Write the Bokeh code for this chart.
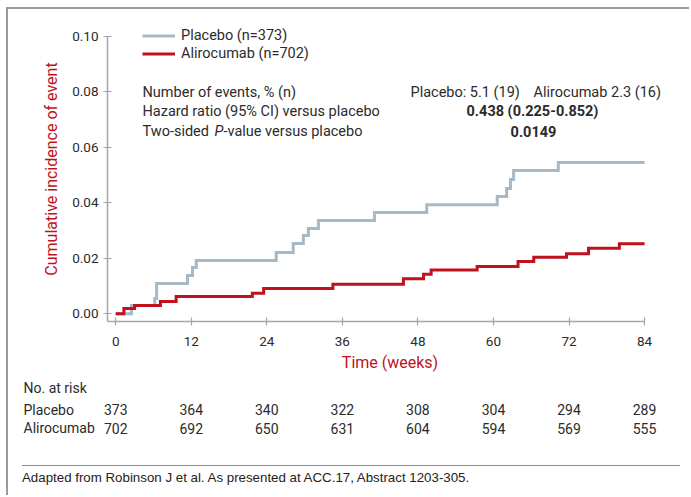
from bokeh.plotting import figure
from bokeh.models import (ColumnDataSource, Label, LabelSet, Legend, LegendItem,
                          FixedTicker, NumeralTickFormatter, Range1d, Div)
from bokeh.layouts import column
from bokeh.core.properties import value
from bokeh.embed import file_html
from bokeh.resources import INLINE

# ---------------- data ----------------
placebo_weeks = [0, 2.5, 6.2, 6.5, 11.4, 12.2, 12.8, 25.5, 28.2, 29.8, 30.6, 32.2,
                 41.1, 49.4, 60.6, 62.1, 62.7, 63.2, 70.3, 84]
placebo_inc = [0, 0.0030, 0.0055, 0.0109, 0.0138, 0.0167, 0.0192, 0.0221, 0.0253,
               0.0282, 0.0307, 0.0336, 0.0365, 0.0393, 0.0422, 0.0451, 0.0484,
               0.0516, 0.0545, 0.0545]

alirocumab_weeks = [0, 1.3, 3.0, 7.1, 9.6, 21.7, 23.5, 34.5, 45.7, 48.9, 50.1, 57.4,
                    63.9, 66.4, 71.6, 75.1, 80.0, 84]
alirocumab_inc = [0, 0.0019, 0.0030, 0.0044, 0.0062, 0.0074, 0.0091, 0.0106, 0.0126,
                  0.0142, 0.0158, 0.0170, 0.0188, 0.0204, 0.0216, 0.0236, 0.0252, 0.0252]

x_ticks = [0, 12, 24, 36, 48, 60, 72, 84]
y_ticks = [0.00, 0.02, 0.04, 0.06, 0.08, 0.10]

risk_weeks = [0, 12, 24, 36, 48, 60, 72, 84]
placebo_risk = [373, 364, 340, 322, 308, 304, 294, 289]
alirocumab_risk = [702, 692, 650, 631, 604, 594, 569, 555]

series_labels = ["Placebo (n=373)", "Alirocumab (n=702)"]
stats_rows = ["Number of events, % (n)", "Hazard ratio (95% CI) versus placebo"]
events_placebo = "Placebo: 5.1 (19)"
events_aliro = "Alirocumab 2.3 (16)"
hazard_ratio = "0.438 (0.225-0.852)"
p_value = "0.0149"
footer_text = "Adapted from Robinson J et al. As presented at ACC.17, Abstract 1203-305."

# ---------------- style / layout constants ----------------
FONT = "Roboto"
RED = "#c0121d"
BLUE = "#a5b9c7"
TXT = "#2b2b2b"
AX = "#a6a6a6"

PX_X = 6.296      # pixels per week
PX_Y = 2777.0     # pixels per unit of incidence
X_MAX, Y_MAX = 84, 0.10

# main plot geometry (pixels)
ML, MR, MT, MB = 99, 5, 7, 54
FRAME_W, FRAME_H = 565, 305
x0 = -8.2 / PX_X
x1 = x0 + FRAME_W / PX_X
y0 = -7.7 / PX_Y
y1 = y0 + FRAME_H / PX_Y

p = figure(width=ML + FRAME_W + MR, height=MT + FRAME_H + MB,
           x_range=Range1d(x0, x1), y_range=Range1d(y0, y1),
           output_backend="svg", toolbar_location=None,
           min_border_left=ML, min_border_right=MR,
           min_border_top=MT, min_border_bottom=MB)
p.frame_align = False
p.grid.visible = False
p.outline_line_color = None
p.background_fill_color = None
p.border_fill_color = None

p.xaxis.ticker = FixedTicker(ticks=x_ticks)
p.yaxis.ticker = FixedTicker(ticks=y_ticks)
p.yaxis.formatter = NumeralTickFormatter(format="0.00")
p.xaxis.bounds = (x0, X_MAX)
p.yaxis.bounds = (y0, Y_MAX)
for ax in (p.xaxis, p.yaxis):
    ax.axis_line_color = AX
    ax.axis_line_width = 1.5
    ax.major_tick_line_color = AX
    ax.major_tick_line_width = 1.2
    ax.major_tick_in = 4
    ax.major_tick_out = 4
    ax.minor_tick_line_color = None
    ax.major_label_text_font = FONT
    ax.major_label_text_font_size = "13.5px"
    ax.major_label_text_color = TXT
    ax.axis_label_text_font = FONT
    ax.axis_label_text_font_size = "16px"
    ax.axis_label_text_font_style = "normal"
    ax.axis_label_text_color = RED

p.xaxis.axis_label = "Time (weeks)"
p.xaxis.major_label_standoff = 11
p.xaxis.axis_label_standoff = 4
p.yaxis.axis_label = "Cumulative incidence of event"
p.yaxis.major_label_standoff = 5
p.yaxis.axis_label_standoff = 8

r1 = p.step(placebo_weeks, placebo_inc, mode="after", line_color=BLUE,
            line_width=3, line_join="miter")
r2 = p.step(alirocumab_weeks, alirocumab_inc, mode="after", line_color=RED,
            line_width=3, line_join="miter")

legend = Legend(items=[LegendItem(label=series_labels[0], renderers=[r1]),
                       LegendItem(label=series_labels[1], renderers=[r2])],
                location=(35, 259), padding=0, margin=0, spacing=1,
                glyph_width=33, glyph_height=17, label_height=17, label_standoff=6,
                label_text_font=FONT, label_text_font_size="14.5px",
                label_text_color=TXT, background_fill_alpha=0,
                border_line_alpha=0)
p.add_layout(legend)


def lab(fig, x, y, text, align="left", style="normal", size="14.5px"):
    fig.add_layout(Label(x=x, y=y, x_units="screen", y_units="screen", text=text,
                         text_font=FONT, text_font_size=size, text_color=TXT,
                         text_baseline="middle", text_align=align,
                         text_font_style=style))


lab(p, 35, 229.5, stats_rows[0])
lab(p, 35, 210, stats_rows[1])
lab(p, 35, 190.5, "Two-sided")
lab(p, 107, 190.5, "P", style="italic")
lab(p, 116, 190.5, "-value versus placebo")
lab(p, 303, 229.5, events_placebo)
lab(p, 426, 229.5, events_aliro)
lab(p, 425, 210, hazard_ratio, align="center", style="bold")
lab(p, 426, 190.5, p_value, align="center", style="bold")

# ---------------- risk table (own figure, same x scale) ----------------
RL, RW, RH = 12, 660, 65
rx0 = x0 - (ML - RL) / PX_X
rx1 = rx0 + RW / PX_X
r = figure(width=RL + RW + 1, height=RH,
           x_range=Range1d(rx0, rx1), y_range=Range1d(0, 1),
           output_backend="svg", toolbar_location=None,
           x_axis_type=None, y_axis_type=None,
           min_border_left=RL, min_border_right=1,
           min_border_top=0, min_border_bottom=0)
r.frame_align = False
r.grid.visible = False
r.outline_line_color = None
r.background_fill_color = None
r.border_fill_color = None

lab(r, 3, 52.3, "No. at risk", size="14px")
lab(r, 3, 30.7, "Placebo", size="14px")
lab(r, 3, 12.3, "Alirocumab", size="14px")

risk_src = ColumnDataSource(dict(week=risk_weeks,
                                 pl=[str(v) for v in placebo_risk],
                                 al=[str(v) for v in alirocumab_risk]))
for field, yy in (("pl", 30.7), ("al", 12.3)):
    r.add_layout(LabelSet(x="week", y=yy, x_units="data", y_units="screen",
                          text=field, source=risk_src,
                          text_font=value(FONT), text_font_size="14px",
                          text_color=TXT, text_align="center",
                          text_baseline="middle"))

footer = Div(text=footer_text, width=658, height=30, margin=(25, 0, 0, 14),
             styles={"border-top": "1.5px solid #8c8c8c",
                     "font-family": "'Liberation Sans', Arial, sans-serif",
                     "font-size": "13.3px", "color": "#222",
                     "padding-top": "3px"})

layout = column(p, r, footer, width=683, margin=(7, 0, 0, 6),
                styles={"border-top": "2px solid #9b9b9b",
                        "border-left": "2px solid #9b9b9b"})

open("out.html", "w").write(file_html(layout, INLINE))
